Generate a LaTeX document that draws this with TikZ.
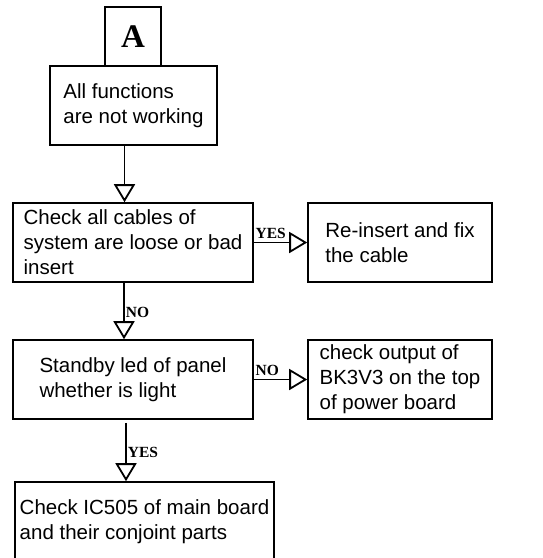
\documentclass[tikz,border=0pt]{standalone}
\usepackage{fontspec}
\setmainfont{Liberation Sans}
\newfontfamily\ansfont{Liberation Serif}
\usetikzlibrary{arrows.meta}

\begin{document}
\begin{tikzpicture}[x=1pt,y=-1pt,
  box/.style={draw, line width=1.6pt, inner sep=0pt, align=left, font=\fontsize{20.5}{25}\selectfont},
  flow/.style={line width=1.8pt, -{Triangle[open,length=18pt,width=21pt]}},
  ans/.style={font=\ansfont\bfseries\fontsize{15.5}{15.5}\selectfont, inner sep=1pt}]
\useasboundingbox (0,0) rectangle (543,558);
\node[box, minimum width=56, minimum height=59, font=\ansfont\bfseries\fontsize{33}{33}\selectfont] (A) at (133,36.5) {A};
\node[box, minimum width=167, minimum height=79] (all) at (133.5,105.5) {All functions\\are not working};
\node[box, minimum width=240, minimum height=79] (cab) at (133,242.5) {Check all cables of\\system are loose or bad\\insert};
\node[box, minimum width=184, minimum height=79] (fix) at (400,242.5) {Re-insert and fix\\the cable};
\node[box, minimum width=240, minimum height=79] (led) at (133,379.5) {Standby led of panel\\whether is light};
\node[box, minimum width=184, minimum height=79] (out) at (400,379.5) {check output of\\BK3V3 on the top\\of power board};
\node[box, minimum width=259, minimum height=80] (ic) at (144.5,522) {Check IC505 of main board\\and their conjoint parts};
% connectors
\draw[flow] ([xshift=-9]all.south) -- ([xshift=-9]all.south |- cab.north);
\draw[flow] (cab.east) -- node[ans, anchor=south west, pos=0, yshift=2] {YES} (fix.west);
\draw[flow] ([xshift=-9]cab.south) -- node[ans, anchor=west, pos=0.52] {NO} ([xshift=-9]cab.south |- led.north);
\draw[flow] (led.east) -- node[ans, anchor=south west, pos=0, yshift=2] {NO} (out.west);
\draw[flow] ([xshift=-7,yshift=-3]led.south) -- node[ans, anchor=west, pos=0.5] {YES} ([xshift=-7]led.south |- ic.north);
\end{tikzpicture}
\end{document}
